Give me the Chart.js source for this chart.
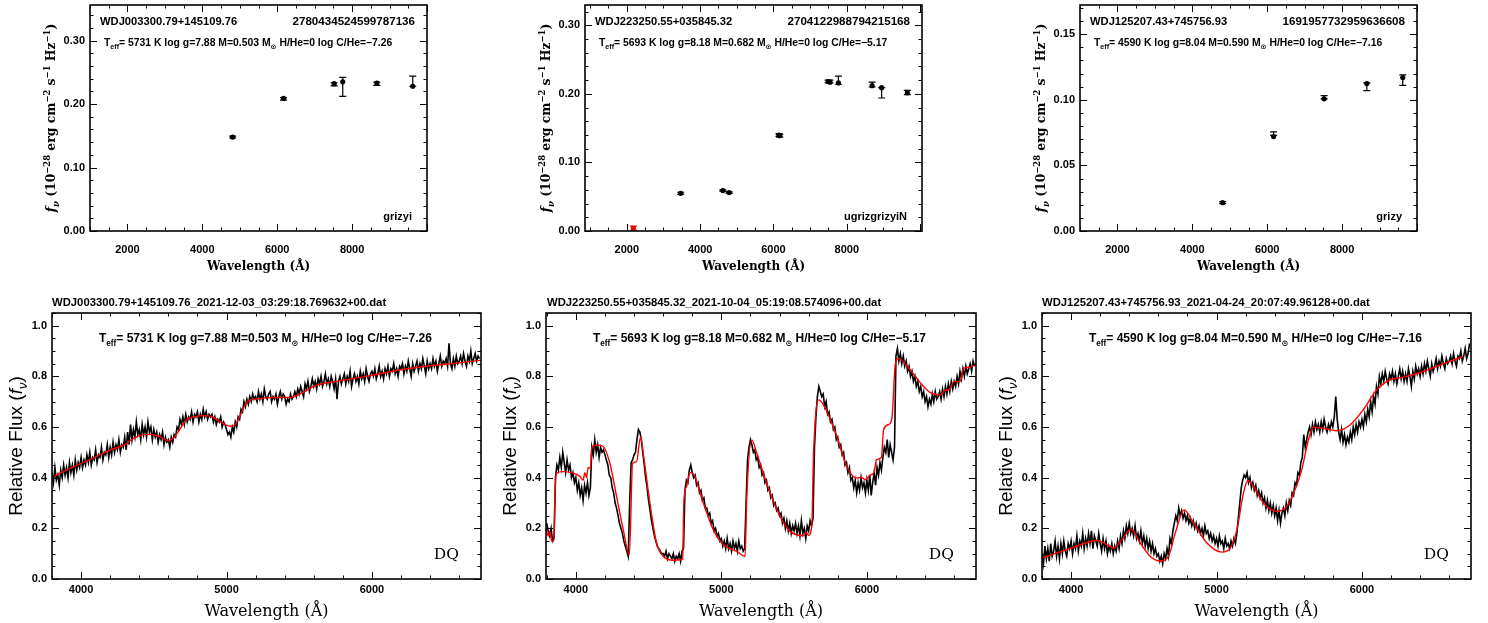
<!DOCTYPE html>
<html>
<head>
<meta charset="utf-8">
<title>DQ white dwarf fits</title>
<script src="https://cdn.jsdelivr.net/npm/chart.js@4.4.1/dist/chart.umd.min.js"></script>
<style>
  body { margin: 0; background: #fff; }
  #wrap { position: relative; width: 1488px; height: 623px; overflow: hidden; background: #fff; }
  #wrap canvas { position: absolute; }
</style>
</head>
<body>
<div id="wrap">
  <canvas id="sed1" width="490" height="285" style="left:0px;top:0px"></canvas>
  <canvas id="sed2" width="500" height="285" style="left:490px;top:0px"></canvas>
  <canvas id="sed3" width="498" height="285" style="left:990px;top:0px"></canvas>
  <canvas id="spec1" width="490" height="333" style="left:0px;top:290px"></canvas>
  <canvas id="spec2" width="500" height="333" style="left:490px;top:290px"></canvas>
  <canvas id="spec3" width="498" height="333" style="left:990px;top:290px"></canvas>
</div>
<script>
// ---------- photometry (top row) ----------
const sedXTicks = [2000, 4000, 6000, 8000];

// WDJ003300.79+145109.76  (g r i z y i)
const sed1Wave  = [4810, 6170, 7520, 8660, 9620, 7750];
const sed1Flux  = [0.148, 0.208, 0.231, 0.232, 0.236, 0.227];
const sed1Err   = [0.0015, 0.002, 0.0025, 0.0025, 0.008, 0.015];
const sed1Model = [0.148, 0.209, 0.232, 0.233, 0.228, 0.235];

// WDJ223250.55+035845.32  (u g r i z g r i z y i N)
const sed2Wave  = [3470, 4620, 6150, 7490, 8950, 4790, 6170, 7540, 8690, 9650, 7770, 2180];
const sed2Flux  = [0.055, 0.059, 0.140, 0.218, 0.2015, 0.056, 0.139, 0.218, 0.2135, 0.202, 0.220, 0.004];
const sed2Err   = [0.0015, 0.001, 0.002, 0.002, 0.0075, 0.001, 0.002, 0.002, 0.0035, 0.003, 0.006, 0.003];
const sed2Model = [0.055, 0.059, 0.140, 0.218, 0.209, 0.056, 0.139, 0.217, 0.212, 0.2015, 0.216, 0.004];
const sed2Color = ['#000', '#000', '#000', '#000', '#000', '#000', '#000', '#000', '#000', '#000', '#000', '#e00000'];

// WDJ125207.43+745756.93  (g r i z y)
const sed3Wave  = [4810, 6170, 7520, 8660, 9620];
const sed3Flux  = [0.0216, 0.0742, 0.1020, 0.1100, 0.1150];
const sed3Err   = [0.0008, 0.0013, 0.0012, 0.0030, 0.0040];
const sed3Model = [0.0216, 0.0720, 0.1008, 0.1124, 0.1170];

// ---------- spectra (bottom row), observed flux on a 10 A grid ----------
const specXTicks = [4000, 5000, 6000];
const specWaveStart = 3800, specWaveStep = 10;

const spec1Flux = [
  .42,.38,.44,.39,.41,.37,.43,.40,.45,.41,   // 3800
  .44,.40,.46,.42,.45,.41,.47,.43,.46,.44,   // 3900
  .48,.44,.47,.45,.49,.46,.50,.45,.48,.47,   // 4000
  .51,.46,.49,.48,.52,.47,.50,.49,.53,.48,   // 4100
  .52,.49,.54,.50,.53,.51,.55,.50,.53,.52,   // 4200
  .56,.51,.58,.53,.61,.55,.59,.56,.62,.57,   // 4300
  .59,.55,.61,.57,.60,.56,.62,.58,.60,.55,   // 4400
  .59,.56,.58,.54,.57,.55,.58,.53,.56,.54,   // 4500
  .55,.52,.56,.54,.57,.56,.60,.59,.63,.61,   // 4600
  .64,.61,.65,.62,.64,.63,.66,.62,.65,.64,   // 4700
  .66,.62,.65,.63,.67,.64,.66,.63,.65,.64,   // 4800
  .65,.62,.64,.61,.63,.62,.64,.60,.62,.61,   // 4900
  .59,.57,.58,.56,.60,.58,.62,.60,.64,.63,   // 5000
  .67,.66,.70,.68,.71,.69,.72,.70,.73,.71,   // 5100
  .72,.70,.74,.71,.73,.70,.75,.72,.71,.73,   // 5200
  .74,.70,.72,.71,.73,.69,.72,.74,.71,.73,   // 5300
  .72,.69,.71,.70,.73,.71,.72,.74,.72,.75,   // 5400
  .73,.76,.74,.72,.77,.75,.78,.74,.76,.79,   // 5500
  .76,.78,.75,.79,.77,.80,.76,.78,.81,.77,   // 5600
  .79,.76,.80,.78,.75,.79,.71,.78,.80,.77,   // 5700
  .79,.81,.77,.80,.78,.82,.76,.79,.81,.78,   // 5800
  .80,.77,.82,.79,.81,.78,.83,.80,.78,.81,   // 5900
  .82,.80,.83,.79,.81,.84,.80,.82,.79,.83,   // 6000
  .81,.84,.80,.83,.82,.85,.81,.83,.80,.84,   // 6100
  .83,.85,.81,.84,.82,.86,.83,.80,.85,.82,   // 6200
  .84,.86,.82,.85,.83,.87,.84,.81,.86,.83,   // 6300
  .85,.83,.87,.84,.86,.82,.85,.88,.84,.86,   // 6400
  .85,.87,.84,.93,.85,.83,.87,.84,.88,.85,   // 6500
  .86,.88,.85,.89,.86,.84,.88,.86,.90,.85,   // 6600
  .87,.89,.86,.88,.87                        // 6700
];
const fit1Wave = [3820, 3900, 4000, 4100, 4200, 4300, 4360, 4420, 4480, 4540, 4600, 4640, 4680, 4720, 4780, 4840, 4890, 4940,
  4990, 5030, 5060, 5090, 5120, 5150, 5200, 5300, 5450, 5520, 5620, 5750, 6000, 6200, 6400, 6600, 6750];
const fit1Flux = [0.407, 0.430, 0.456, 0.482, 0.509, 0.530, 0.555, 0.569, 0.571, 0.562, 0.546, 0.560, 0.592, 0.627, 0.640, 0.645, 0.643, 0.627,
  0.610, 0.603, 0.610, 0.640, 0.680, 0.703, 0.710, 0.716, 0.718, 0.735, 0.765, 0.779, 0.804, 0.826, 0.842, 0.853, 0.864];

const spec2Flux = [
  .22,.19,.17,.20,.15,.16,.40,.45,.43,.48,   // 3800
  .44,.50,.46,.42,.47,.43,.45,.40,.42,.38,   // 3900
  .40,.35,.38,.33,.36,.31,.37,.34,.38,.33,   // 4000
  .36,.52,.49,.55,.50,.53,.48,.52,.50,.51,   // 4100
  .49,.47,.45,.41,.40,.36,.34,.30,.28,.25,   // 4200
  .22,.20,.18,.15,.13,.11,.09,.30,.46,.47,   // 4300
  .49,.50,.55,.59,.58,.55,.50,.45,.40,.36,   // 4400
  .31,.27,.23,.20,.17,.15,.13,.12,.11,.10,   // 4500
  .10,.09,.11,.08,.10,.09,.08,.10,.07,.09,   // 4600
  .08,.10,.07,.11,.12,.35,.39,.38,.43,.45,   // 4700
  .42,.40,.41,.37,.38,.34,.35,.31,.32,.28,   // 4800
  .28,.25,.26,.22,.23,.19,.20,.17,.18,.15,   // 4900
  .16,.13,.15,.12,.16,.12,.14,.11,.15,.12,   // 5000
  .14,.11,.15,.12,.13,.11,.12,.30,.47,.52,   // 5100
  .55,.53,.50,.51,.47,.48,.44,.45,.41,.42,   // 5200
  .38,.39,.35,.36,.32,.33,.29,.30,.27,.28,   // 5300
  .25,.26,.22,.24,.20,.23,.19,.22,.18,.21,   // 5400
  .19,.22,.18,.21,.17,.23,.18,.20,.16,.21,   // 5500
  .19,.23,.21,.24,.52,.64,.72,.76,.74,.72,   // 5600
  .73,.68,.70,.65,.66,.62,.63,.59,.60,.55,   // 5700
  .56,.52,.53,.49,.50,.45,.46,.42,.44,.39,   // 5800
  .40,.36,.39,.34,.38,.35,.40,.36,.38,.34,   // 5900
  .39,.35,.41,.33,.38,.42,.37,.44,.41,.46,   // 6000
  .43,.48,.52,.50,.55,.48,.53,.50,.47,.52,   // 6100
  .88,.91,.86,.89,.85,.88,.84,.86,.82,.84,   // 6200
  .80,.82,.78,.80,.76,.78,.74,.76,.72,.74,   // 6300
  .70,.72,.68,.71,.69,.73,.70,.74,.71,.72,   // 6400
  .74,.71,.75,.72,.76,.73,.77,.74,.78,.75,   // 6500
  .78,.76,.80,.77,.82,.79,.83,.80,.84,.81,   // 6600
  .83,.85,.82,.86,.84                        // 6700
];
const fit2Wave = [3795, 3810, 3821, 3833, 3849, 3858, 3867, 3913, 3982, 4028, 4050, 4062, 4073, 4085, 4100, 4110, 4142, 4188,
  4234, 4280, 4326, 4368, 4390, 4417, 4445, 4463, 4509, 4555, 4601, 4670, 4716, 4734, 4743, 4761, 4784, 4807,
  4876, 4945, 5014, 5106, 5163, 5174, 5209, 5243, 5312, 5404, 5472, 5564, 5580, 5599, 5622, 5633, 5668, 5702,
  5794, 5862, 5931, 5960, 5990, 6023, 6050, 6065, 6100, 6115, 6150, 6172, 6195, 6218, 6298, 6390, 6436, 6505,
  6540, 6562, 6600, 6640, 6665, 6700, 6750];
const fit2Flux = [0.200, 0.170, 0.190, 0.150, 0.150, 0.350, 0.418, 0.424, 0.418, 0.405, 0.390, 0.420, 0.400, 0.440, 0.437, 0.520, 0.529, 0.523,
  0.457, 0.326, 0.194, 0.096, 0.457, 0.463, 0.562, 0.497, 0.300, 0.142, 0.089, 0.074, 0.076, 0.080, 0.313, 0.365, 0.420, 0.415,
  0.300, 0.194, 0.135, 0.109, 0.089, 0.313, 0.549, 0.497, 0.378, 0.247, 0.188, 0.171, 0.185, 0.172, 0.214, 0.483, 0.707, 0.687,
  0.562, 0.444, 0.398, 0.402, 0.392, 0.411, 0.420, 0.470, 0.480, 0.590, 0.610, 0.634, 0.845, 0.871, 0.825, 0.760, 0.736, 0.727,
  0.745, 0.746, 0.780, 0.779, 0.832, 0.835, 0.849];

const spec3Flux = [
  .10,.06,.13,.08,.12,.07,.14,.09,.11,.15,   // 3800
  .09,.13,.08,.14,.10,.15,.11,.09,.14,.12,   // 3900
  .15,.10,.14,.12,.17,.11,.15,.13,.18,.12,   // 4000
  .16,.13,.18,.14,.19,.12,.17,.15,.13,.18,   // 4100
  .14,.11,.16,.12,.15,.10,.13,.11,.14,.10,   // 4200
  .13,.11,.15,.12,.17,.14,.19,.16,.21,.18,   // 4300
  .22,.18,.20,.17,.21,.16,.18,.15,.19,.14,   // 4400
  .17,.13,.16,.12,.15,.11,.14,.10,.12,.09,   // 4500
  .10,.07,.09,.06,.10,.08,.12,.09,.16,.14,   // 4600
  .19,.22,.25,.23,.28,.25,.27,.24,.26,.23,   // 4700
  .25,.22,.24,.21,.23,.20,.22,.19,.21,.18,   // 4800
  .20,.17,.21,.18,.19,.16,.18,.15,.17,.14,   // 4900
  .16,.13,.17,.14,.15,.12,.16,.13,.14,.12,   // 5000
  .15,.13,.16,.14,.18,.24,.30,.36,.39,.41,   // 5100
  .40,.42,.38,.40,.36,.38,.35,.37,.33,.35,   // 5200
  .32,.34,.30,.32,.28,.31,.27,.30,.26,.29,   // 5300
  .25,.28,.23,.27,.22,.26,.28,.25,.30,.27,   // 5400
  .31,.29,.34,.33,.38,.37,.42,.41,.46,.48,   // 5500
  .57,.52,.55,.58,.60,.57,.61,.58,.62,.59,   // 5600
  .61,.58,.62,.59,.63,.60,.58,.61,.59,.62,   // 5700
  .60,.64,.72,.63,.58,.55,.59,.54,.57,.53,   // 5800
  .56,.54,.58,.55,.60,.57,.61,.58,.62,.60,   // 5900
  .63,.60,.65,.62,.67,.64,.70,.66,.72,.69,   // 6000
  .76,.73,.80,.77,.81,.78,.82,.79,.77,.81,   // 6100
  .79,.82,.78,.81,.77,.80,.83,.79,.82,.78,   // 6200
  .81,.78,.83,.80,.76,.82,.79,.84,.81,.83,   // 6300
  .80,.84,.81,.85,.82,.86,.83,.80,.85,.82,   // 6400
  .84,.87,.83,.86,.84,.88,.85,.83,.87,.85,   // 6500
  .86,.88,.85,.89,.86,.84,.88,.87,.90,.86,   // 6600
  .88,.91,.87,.89,.93                        // 6700
];
const fit3Wave = [3800, 4000, 4133, 4178, 4235, 4293, 4350, 4412, 4476, 4545, 4613, 4670, 4716, 4778, 4842, 4934, 5037, 5094,
  5140, 5185, 5215, 5254, 5323, 5414, 5483, 5540, 5586, 5632, 5666, 5735, 5826, 5918, 6009, 6101, 6192, 6284, 6421, 6558, 6696];
const fit3Flux = [0.083, 0.122, 0.148, 0.152, 0.139, 0.122, 0.155, 0.197, 0.142, 0.089, 0.071, 0.089, 0.181, 0.273, 0.221, 0.142, 0.106, 0.122,
  0.194, 0.339, 0.389, 0.365, 0.300, 0.267, 0.286, 0.352, 0.431, 0.549, 0.599, 0.595, 0.585, 0.608, 0.668, 0.746, 0.786, 0.796, 0.819, 0.849, 0.878];


const SANS = '"Liberation Sans", "DejaVu Sans", sans-serif';
const SERIF = '"DejaVu Serif", "Liberation Serif", serif';

// draws a run of text pieces: [text, mode]; mode '', 'sub', 'sup', 'it', 'itsub'
function drawRich(ctx, parts, x, y, o) {
  const size = o.size, weight = o.weight || 'normal', family = o.family || SANS;
  const fontFor = m => {
    const small = (m === 'sub' || m === 'sup' || m === 'itsub');
    const ital = (m === 'it' || m === 'itsub') ? 'italic ' : '';
    return ital + weight + ' ' + (small ? size * 0.68 : size) + 'px ' + family;
  };
  let w = 0;
  parts.forEach(p => { ctx.font = fontFor(p[1]); w += ctx.measureText(p[0]).width; });
  ctx.save();
  ctx.fillStyle = '#000';
  ctx.textBaseline = 'alphabetic';
  ctx.translate(x, y);
  if (o.rotate) ctx.rotate(-Math.PI / 2);
  let cx = o.align === 'center' ? -w / 2 : o.align === 'right' ? -w : 0;
  const base = size * 0.36;   // y given is the visual middle of the line
  parts.forEach(p => {
    ctx.font = fontFor(p[1]);
    let dy = 0;
    if (p[1] === 'sub' || p[1] === 'itsub') dy = size * 0.28;
    if (p[1] === 'sup') dy = -size * 0.42;
    ctx.fillText(p[0], cx, base + dy);
    cx += ctx.measureText(p[0]).width;
  });
  ctx.restore();
}

function teffParts(teff, logg, mass, chem) {
  return [['T', ''], ['eff', 'sub'], ['= ' + teff + ' K log g=' + logg + ' M=' + mass + ' M', ''], ['\u2299', 'sub'],
          [' H/He=0 log C/He=' + chem, '']];
}

// box with inward ticks on all four sides, plus x tick labels
function drawFrame(chart, xMajor, xMinor, yMajor, yMinor, xLabels, labelDy) {
  const { ctx, chartArea: a, scales: { x, y } } = chart;
  ctx.save();
  ctx.strokeStyle = '#000';
  ctx.lineWidth = 1;
  ctx.beginPath();
  const ticks = (scale, step, len, horiz) => {
    const start = Math.ceil(scale.min / step - 1e-6) * step;
    for (let v = start; v <= scale.max + 1e-9; v += step) {
      const p = Math.round(scale.getPixelForValue(v)) + 0.5;
      if (horiz) {
        ctx.moveTo(p, a.bottom); ctx.lineTo(p, a.bottom - len);
        ctx.moveTo(p, a.top); ctx.lineTo(p, a.top + len);
      } else {
        ctx.moveTo(a.left, p); ctx.lineTo(a.left + len, p);
        ctx.moveTo(a.right, p); ctx.lineTo(a.right - len, p);
      }
    }
  };
  ticks(x, xMinor, 3.5, true);
  ticks(x, xMajor, 7, true);
  ticks(y, yMinor, 3.5, false);
  ticks(y, yMajor, 7, false);
  ctx.stroke();
  ctx.lineWidth = 1.6;
  ctx.strokeRect(a.left, a.top, a.right - a.left, a.bottom - a.top);
  ctx.restore();
  xLabels.forEach(v => {
    drawRich(ctx, [[String(v), '']], x.getPixelForValue(v), a.bottom + labelDy, { size: 11, weight: 'bold', align: 'center' });
  });
}

function fixedBox(area, w, h) {
  return {
    layout: { padding: { left: 0, top: area.top, right: w - area.right, bottom: 0 } },
    yFit: s => { s.width = area.left; s.paddingTop = 0; s.paddingBottom = 0; },
    xFit: s => { s.height = h - area.bottom; s.paddingLeft = 0; s.paddingRight = 0; }
  };
}

const tickFont = { family: SANS, size: 11, weight: 'bold' };

function sedChart(id, p) {
  const cv = document.getElementById(id);
  const box = fixedBox(p.area, cv.width, cv.height);
  const colors = p.colors || p.wave.map(() => '#000');
  new Chart(cv, {
    type: 'scatter',
    data: {
      datasets: [{
        data: p.wave.map((w, i) => ({ x: w, y: p.model[i] })),
        pointRadius: 2.6,
        pointBorderWidth: 0,
        pointBackgroundColor: colors
      }]
    },
    options: {
      responsive: false, animation: false, devicePixelRatio: 1,
      layout: box.layout,
      plugins: { legend: { display: false }, tooltip: { enabled: false } },
      scales: {
        x: {
          type: 'linear', min: p.xMin, max: p.xMax,
          grid: { display: false, drawTicks: false }, border: { display: false },
          afterFit: box.xFit,
          ticks: { display: false, stepSize: 2000 }
        },
        y: {
          min: 0, max: p.yMax,
          grid: { display: false, drawTicks: false }, border: { display: false },
          afterFit: box.yFit,
          ticks: { stepSize: p.yStep, includeBounds: false, padding: 5, color: '#000', font: tickFont,
                   callback: v => v.toFixed(2) }
        }
      }
    },
    plugins: [{
      id: 'sedDeco',
      beforeDatasetsDraw(chart) {
        const { ctx, scales: { x, y } } = chart;
        ctx.save();
        ctx.lineWidth = 1.2;
        p.wave.forEach((w, i) => {
          const px = x.getPixelForValue(w);
          const lo = y.getPixelForValue(p.flux[i] - p.err[i]);
          const hi = y.getPixelForValue(p.flux[i] + p.err[i]);
          ctx.strokeStyle = colors[i];
          ctx.beginPath();
          ctx.moveTo(px, lo); ctx.lineTo(px, hi);
          ctx.moveTo(px - 3.5, lo); ctx.lineTo(px + 3.5, lo);
          ctx.moveTo(px - 3.5, hi); ctx.lineTo(px + 3.5, hi);
          ctx.stroke();
        });
        ctx.restore();
      },
      afterDraw(chart) {
        const { ctx, chartArea: a } = chart;
        drawFrame(chart, 2000, 500, p.yStep, p.yMinor, sedXTicks, 18);
        drawRich(ctx, [[p.name, '']], a.left + 10, a.top + 16, { size: 11.2, weight: 'bold' });
        drawRich(ctx, [[p.gaia, '']], a.right - 12, a.top + 16, { size: 11.6, weight: 'bold', align: 'right' });
        drawRich(ctx, p.teff, a.left + 14, a.top + 37, { size: 10.4, weight: 'bold' });
        drawRich(ctx, [[p.bands, '']], a.right - 15, a.bottom - 15, { size: 11, weight: 'bold', align: 'right' });
        drawRich(ctx, [['Wavelength (\u00c5)', '']], (a.left + a.right) / 2, 266, { size: 12, weight: 'bold', family: SERIF, align: 'center' });
        drawRich(ctx, [['f', 'it'], ['\u03bd', 'itsub'], [' (10', ''], ['\u221228', 'sup'], [' erg cm', ''], ['\u22122', 'sup'],
                       [' s', ''], ['\u22121', 'sup'], [' Hz', ''], ['\u22121', 'sup'], [')', '']],
                 a.left - 39, (a.top + a.bottom) / 2, { size: 12.4, weight: 'bold', family: SERIF, align: 'center', rotate: true });
      }
    }]
  });
}

function specChart(id, p) {
  const cv = document.getElementById(id);
  const box = fixedBox(p.area, cv.width, cv.height);
  const obs = p.flux.map((f, i) => ({ x: specWaveStart + specWaveStep * i, y: f }));
  const fit = p.fitWave.map((w, i) => ({ x: w, y: p.fitFlux[i] }));
  new Chart(cv, {
    type: 'scatter',
    data: {
      datasets: [
        { data: fit, showLine: true, order: 0, borderColor: '#ff0000', borderWidth: 1.4, pointRadius: 0,
          cubicInterpolationMode: 'monotone' },
        { data: obs, showLine: true, order: 1, borderColor: '#000', borderWidth: 1.6, pointRadius: 0, tension: 0 }
      ]
    },
    options: {
      responsive: false, animation: false, devicePixelRatio: 1,
      layout: box.layout,
      plugins: { legend: { display: false }, tooltip: { enabled: false } },
      scales: {
        x: {
          type: 'linear', min: p.xMin, max: p.xMax,
          grid: { display: false, drawTicks: false }, border: { display: false },
          afterFit: box.xFit,
          ticks: { display: false, stepSize: 1000 }
        },
        y: {
          min: 0, max: 1.05,
          grid: { display: false, drawTicks: false }, border: { display: false },
          afterFit: box.yFit,
          ticks: { stepSize: 0.2, includeBounds: false, padding: 5, color: '#000', font: tickFont,
                   callback: v => v.toFixed(1) }
        }
      }
    },
    plugins: [{
      id: 'specDeco',
      afterDraw(chart) {
        const { ctx, chartArea: a } = chart;
        drawFrame(chart, 1000, 200, 0.2, 0.05, specXTicks, 10);
        drawRich(ctx, [[p.file, '']], a.left + p.fileDx, 12, { size: 11.3, weight: 'bold' });
        drawRich(ctx, p.teff, a.left + 47, a.top + 25, { size: 12, weight: 'bold' });
        drawRich(ctx, [['DQ', '']], a.right - 22, a.bottom - 26, { size: 15.5, family: SERIF, align: 'right' });
        drawRich(ctx, [['Wavelength (\u00c5)', '']], (a.left + a.right) / 2, 320, { size: 16, family: SERIF, align: 'center' });
        drawRich(ctx, [['Relative Flux (', ''], ['f', 'it'], ['\u03bd', 'itsub'], [')', '']],
                 a.left - 37, (a.top + a.bottom) / 2, { size: 19, family: SANS, align: 'center', rotate: true });
      }
    }]
  });
}

sedChart('sed1', {
  area: { left: 90, top: 5, right: 427, bottom: 231 }, xMin: 1000, xMax: 10000, yMax: 0.356, yStep: 0.1, yMinor: 0.02,
  wave: sed1Wave, flux: sed1Flux, err: sed1Err, model: sed1Model,
  name: 'WDJ003300.79+145109.76', gaia: '2780434524599787136', bands: 'grizyi',
  teff: teffParts(5731, '7.88', '0.503', '\u22127.26')
});
sedChart('sed2', {
  area: { left: 95, top: 5, right: 432, bottom: 231 }, xMin: 860, xMax: 10050, yMax: 0.3296, yStep: 0.1, yMinor: 0.02,
  wave: sed2Wave, flux: sed2Flux, err: sed2Err, model: sed2Model, colors: sed2Color,
  name: 'WDJ223250.55+035845.32', gaia: '2704122988794215168', bands: 'ugrizgrizyiN',
  teff: teffParts(5693, '8.18', '0.682', '\u22125.17')
});
sedChart('sed3', {
  area: { left: 90, top: 5, right: 427, bottom: 231 }, xMin: 1000, xMax: 10000, yMax: 0.1723, yStep: 0.05, yMinor: 0.01,
  wave: sed3Wave, flux: sed3Flux, err: sed3Err, model: sed3Model,
  name: 'WDJ125207.43+745756.93', gaia: '1691957732959636608', bands: 'grizy',
  teff: teffParts(4590, '8.04', '0.590', '\u22127.16')
});

specChart('spec1', {
  area: { left: 52, top: 23, right: 481, bottom: 289 }, xMin: 3800, xMax: 6750,
  flux: spec1Flux, fitWave: fit1Wave, fitFlux: fit1Flux, fileDx: 0,
  file: 'WDJ003300.79+145109.76_2021-12-03_03:29:18.769632+00.dat',
  teff: teffParts(5731, '7.88', '0.503', '\u22127.26')
});
specChart('spec2', {
  area: { left: 56, top: 23, right: 486, bottom: 289 }, xMin: 3795, xMax: 6750,
  flux: spec2Flux, fitWave: fit2Wave, fitFlux: fit2Flux, fileDx: 1,
  file: 'WDJ223250.55+035845.32_2021-10-04_05:19:08.574096+00.dat',
  teff: teffParts(5693, '8.18', '0.682', '\u22125.17')
});
specChart('spec3', {
  area: { left: 52, top: 23, right: 481, bottom: 289 }, xMin: 3800, xMax: 6750,
  flux: spec3Flux, fitWave: fit3Wave, fitFlux: fit3Flux, fileDx: 0,
  file: 'WDJ125207.43+745756.93_2021-04-24_20:07:49.96128+00.dat',
  teff: teffParts(4590, '8.04', '0.590', '\u22127.16')
});
</script>
</body>
</html>
